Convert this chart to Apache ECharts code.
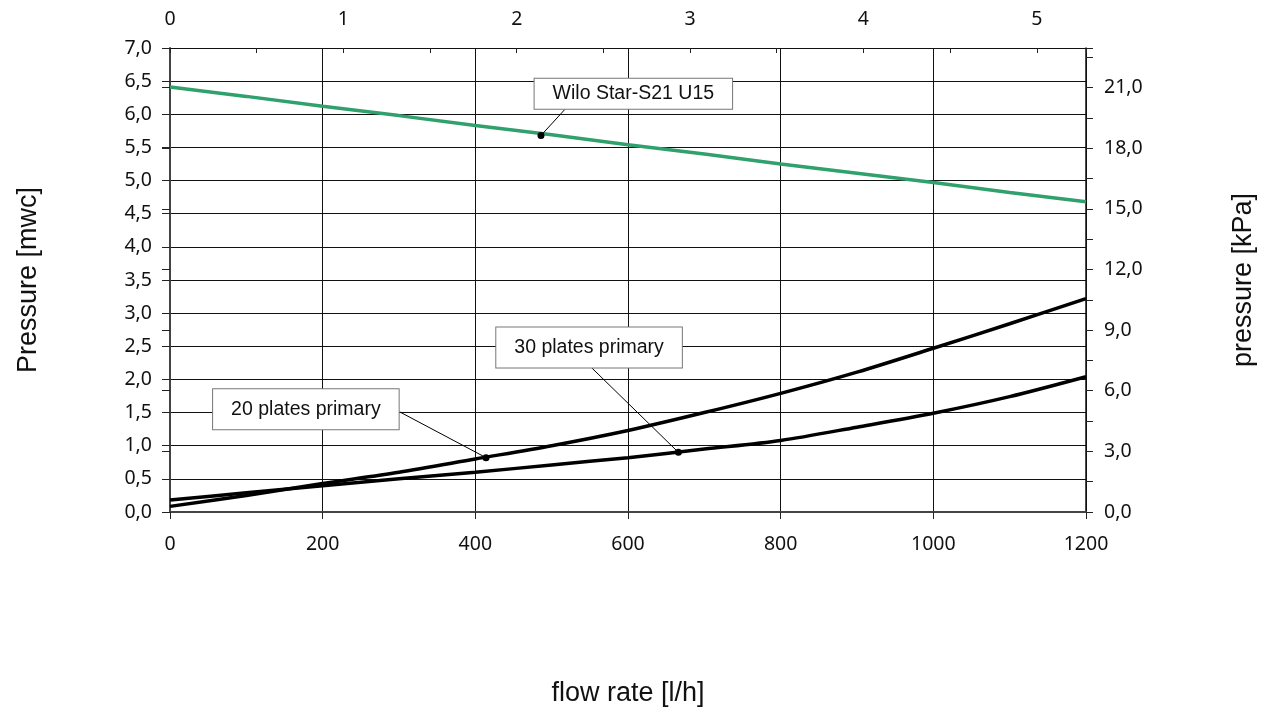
<!DOCTYPE html>
<html>
<head>
<meta charset="utf-8">
<title>Pressure vs flow rate</title>
<script src="https://cdn.jsdelivr.net/npm/echarts@6/dist/echarts.min.js"></script>
<style>
  html, body { margin: 0; padding: 0; background: #fff; }
  #chart { width: 1266px; height: 713px; }
</style>
</head>
<body>
<div id="chart"></div>
<script>
// flow rate [l/h]
const flowRate = [0, 100, 200, 300, 400, 500, 600, 700, 800, 900, 1000, 1100, 1200];
// pressure [mwc]
const pumpCurve = [6.41, 6.27, 6.12, 5.98, 5.83, 5.69, 5.54, 5.40, 5.25, 5.11, 4.97, 4.82, 4.68];
const plates20 = [0.085, 0.25, 0.43, 0.60, 0.80, 1.00, 1.23, 1.50, 1.79, 2.11, 2.47, 2.84, 3.22];
const plates30 = [0.18, 0.29, 0.395, 0.50, 0.60, 0.71, 0.82, 0.95, 1.08, 1.28, 1.49, 1.74, 2.04];

const LH_PER_GPM = 227.1;   // top axis in US gpm
const KPA_PER_MWC = 3.28;   // right axis scale as printed

const notes = [
  { series: 'Wilo Star-S21 U15', box: [607, 6.31], from: [517, 6.07], to: [486, 5.68], pad: [5, 18] },
  { series: '20 plates primary', box: [178, 1.55], from: [301, 1.51], to: [414, 0.82], pad: [10, 18] },
  { series: '30 plates primary', box: [549, 2.48], from: [552, 2.18], to: [666, 0.90], pad: [10, 18] }
];

const chart = echarts.init(document.getElementById('chart'));

const tickFont = { fontFamily: 'Noto Sans', fontSize: 19.5, color: '#111' };
const comma = v => v.toFixed(1).replace('.', ',');
const isMultiple = (v, step) => Math.abs(v / step - Math.round(v / step)) < 1e-6;

function pairs(ys) {
  return flowRate.map((x, i) => [x, ys[i]]);
}

function annot(name) {
  const n = notes.find(d => d.series === name);
  return {
    markPoint: {
      silent: true,
      data: [
        {
          coord: n.box, symbol: 'rect', symbolSize: 1,
          itemStyle: { color: 'transparent' },
          label: {
            show: true, position: 'inside', formatter: name,
            fontFamily: 'Liberation Sans', fontSize: 19.5, color: '#111',
            backgroundColor: '#fff', borderColor: '#777', borderWidth: 1,
            padding: n.pad
          }
        },
        {
          coord: n.to, symbol: 'circle', symbolSize: 7,
          itemStyle: { color: '#000' }, label: { show: false }
        }
      ]
    },
    markLine: {
      silent: true, symbol: 'none', animation: false,
      lineStyle: { color: '#000', width: 1, type: 'solid' },
      label: { show: false },
      data: [[{ coord: n.from }, { coord: n.to }]]
    }
  };
}

const option = {
  animation: false,
  grid: { left: 170, right: 180, top: 48, bottom: 201 },
  xAxis: [
    {
      type: 'value', min: 0, max: 1200, interval: 200,
      name: 'flow rate [l/h]', nameLocation: 'middle', nameGap: 168,
      nameTextStyle: { fontFamily: 'Liberation Sans', fontSize: 27, color: '#111' },
      axisLine: { show: true, lineStyle: { color: '#444', width: 2 } },
      axisTick: { show: true, inside: false, length: 7, lineStyle: { color: '#222' } },
      axisLabel: Object.assign({ margin: 22, formatter: v => String(v) }, tickFont),
      splitLine: { show: true, lineStyle: { color: '#111', width: 1 } }
    },
    {
      type: 'value', position: 'top', min: 0, max: 1200 / LH_PER_GPM, interval: 0.5,
      axisLine: { show: true, onZero: false, lineStyle: { color: '#111', width: 1 } },
      axisTick: { show: true, inside: true, length: 5, lineStyle: { color: '#222' } },
      axisLabel: Object.assign({
        margin: 19,
        formatter: v => (isMultiple(v, 1) && v < 5.2 ? String(Math.round(v)) : '')
      }, tickFont),
      splitLine: { show: false }
    }
  ],
  yAxis: [
    {
      type: 'value', min: 0, max: 7, interval: 0.5,
      name: 'Pressure [mwc]', nameLocation: 'middle', nameGap: 128, nameRotate: 90,
      nameTextStyle: { fontFamily: 'Liberation Sans', fontSize: 27, color: '#111' },
      axisLine: { show: true, lineStyle: { color: '#444', width: 2 } },
      axisTick: { show: true, inside: false, length: 8, lineStyle: { color: '#222' } },
      axisLabel: Object.assign({ margin: 18, formatter: comma }, tickFont),
      splitLine: { show: true, lineStyle: { color: '#111', width: 1 } }
    },
    {
      type: 'value', position: 'right', min: 0, max: 7 * KPA_PER_MWC, interval: 1.5,
      name: 'pressure [kPa]', nameLocation: 'middle', nameGap: 144, nameRotate: 90,
      nameTextStyle: { fontFamily: 'Liberation Sans', fontSize: 27, color: '#111' },
      axisLine: { show: true, onZero: false, lineStyle: { color: '#111', width: 1.5 } },
      axisTick: { show: true, inside: false, length: 7, lineStyle: { color: '#222' } },
      axisLabel: Object.assign({
        margin: 18,
        formatter: v => (isMultiple(v, 3) ? comma(v) : '')
      }, tickFont),
      splitLine: { show: false }
    },
    {
      // inner half of the major ticks on the kPa axis
      type: 'value', position: 'right', min: 0, max: 7 * KPA_PER_MWC, interval: 3,
      axisLine: { show: false },
      axisTick: { show: true, inside: true, length: 8, lineStyle: { color: '#222' } },
      axisLabel: { show: false },
      splitLine: { show: false }
    }
  ],
  series: [
    Object.assign({
      name: 'Wilo Star-S21 U15', type: 'line', data: pairs(pumpCurve),
      showSymbol: false, smooth: false,
      lineStyle: { color: '#30a06c', width: 3.5 }, itemStyle: { color: '#30a06c' }
    }, annot('Wilo Star-S21 U15')),
    Object.assign({
      name: '20 plates primary', type: 'line', data: pairs(plates20),
      showSymbol: false, smooth: 0.3,
      lineStyle: { color: '#000', width: 3.5 }, itemStyle: { color: '#000' }
    }, annot('20 plates primary')),
    Object.assign({
      name: '30 plates primary', type: 'line', data: pairs(plates30),
      showSymbol: false, smooth: 0.3,
      lineStyle: { color: '#000', width: 3.5 }, itemStyle: { color: '#000' }
    }, annot('30 plates primary'))
  ]
};

chart.setOption(option);
</script>
</body>
</html>
